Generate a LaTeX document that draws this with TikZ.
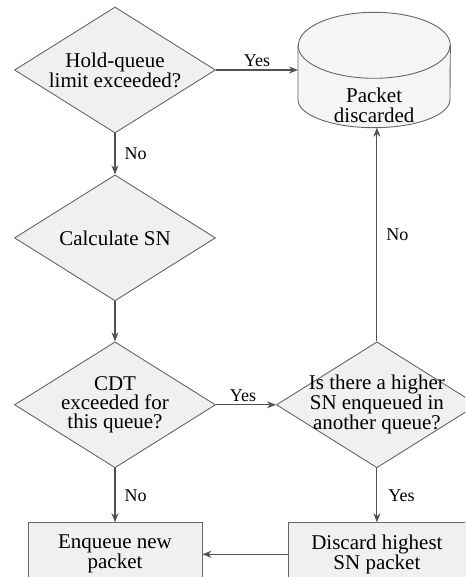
\documentclass[tikz,border=0pt]{standalone}
\usepackage{fontspec}
\setmainfont{Liberation Serif}
\usetikzlibrary{arrows}
\usetikzlibrary{arrows.meta}
\usetikzlibrary{shapes.geometric,positioning}

\begin{document}
\begin{tikzpicture}[x=1pt,y=-1pt,
      flownode/.style = {align=center, draw=black!60, fill=gray!12, line width=.9pt,
        font=\fontsize{21}{19}\selectfont},
      decision/.style = {flownode, diamond, aspect=1.6, inner sep=0pt,
        minimum width=201pt, minimum height=126pt},
      process/.style = {flownode, rectangle, inner ysep=12pt, minimum width=174pt},
      storage/.style = {draw=black!60, fill=gray!8, line width=.9pt},
      answer/.style = {font=\fontsize{18}{18}\selectfont, inner sep=3pt},
      link/.style = {->, draw=black!68, line width=1.1pt},
      >={Stealth[length=9pt,width=7pt]}]
    \useasboundingbox (0,0) rectangle (465,577);
    \clip (0,0) rectangle (465,577);

    \node [decision] (hold) at (115,70) {Hold-queue\\limit exceeded?};
    \node [decision, below=41pt of hold] (calc) {Calculate SN};
    \node [decision, below=40pt of calc] (cdt) {CDT\\exceeded for\\this queue?};
    \node [decision, inner sep=-6pt, right=60pt of cdt] (higher) {Is there a higher\\SN enqueued in\\another queue?};
    \node [process, below=54pt of cdt] (enq) {Enqueue new\\packet};
    \node [process, minimum width=177pt, below=54pt of higher] (drop) {Discard highest\\SN packet};
    \node [minimum width=152pt, minimum height=115pt, inner sep=0pt, right=82pt of hold] (disc) {};

    \path [storage] ([yshift=-33pt]disc.north west) -- ([yshift=28pt]disc.south west)
        arc [start angle=180, end angle=360, x radius=76pt, y radius=28pt]
        -- ([yshift=-33pt]disc.north east)
        arc [start angle=0, end angle=180, x radius=76pt, y radius=33pt] -- cycle;
    \draw [draw=black!60, line width=.9pt] ([yshift=-33pt]disc.north west)
        arc [start angle=180, end angle=360, x radius=76pt, y radius=33pt];
    \node [align=center, font=\fontsize{21}{20}\selectfont] (disctext) at ([yshift=-35pt]disc.center) {Packet\\discarded};

    \draw [link] (hold.east) -- node [answer, above] (yes1) {Yes} (disc.west);
    \draw [link] (hold.south) -- node [answer, right=6pt] (no1) {No} (calc.north);
    \draw [link] (calc.south) -- (cdt.north);
    \draw [link] (cdt.east) -- node [answer, above, xshift=-3pt] (yes2) {Yes} (higher.west);
    \draw [link] (cdt.south) -- node [answer, right=6pt] (no2) {No} (enq.north);
    \draw [link] (higher.south) -- node [answer, right=8pt] (yes3) {Yes} (drop.north);
    \draw [link] (higher.north) -- node [answer, right=6pt] (no3) {No} (higher.north |- disc.south);
    \draw [link] (drop.west) -- (drop.west -| enq.east);
\end{tikzpicture}
\end{document}
